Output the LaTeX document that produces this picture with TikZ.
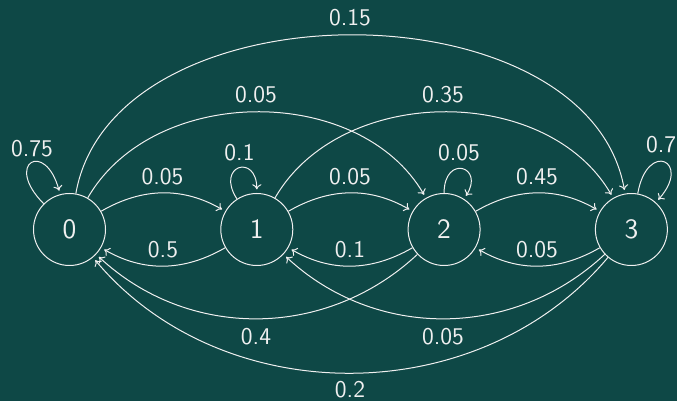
\documentclass[tikz,border=0pt]{standalone}
\usetikzlibrary{arrows.meta}
\definecolor{bgc}{RGB}{14,72,70}
\definecolor{fgc}{RGB}{240,240,240}
\tikzset{
  state/.style={draw=fgc, circle, minimum size=36pt, inner sep=0pt, line width=0.5pt,
    text=fgc, font=\sffamily\fontsize{14}{16}\selectfont},
  edge/.style={draw=fgc, line width=0.5pt, -{To[length=2.6pt,width=4.6pt]}, shorten >=1.8pt},
  lbl/.style={text=fgc, inner sep=0pt, font=\sffamily\fontsize{12}{14}\selectfont}
}
\begin{document}
\begin{tikzpicture}[x=0.5pt,y=-0.5pt]
\fill[bgc] (0,0) rectangle (677,401);
\useasboundingbox (0,0) rectangle (677,401);
\node[state] (n0) at (69.5,229.5) {0};
\node[state] (n1) at (256.8,229.5) {1};
\node[state] (n2) at (444.1,229.5) {2};
\node[state] (n3) at (631.4,229.5) {3};
% loops
\draw[edge] (n0) to[out=135,in=105,distance=28.5pt] (n0);
\draw[edge] (n1) to[out=123,in=90,distance=20pt] (n1);
\draw[edge] (n2) to[out=90,in=57,distance=19.5pt] (n2);
\draw[edge] (n3) to[out=80,in=48,distance=27.5pt] (n3);
% neighbours
\draw[edge] (n0) to[bend left=30] (n1);
\draw[edge] (n1) to[bend left=30] (n0);
\draw[edge] (n1) to[bend left=30] (n2);
\draw[edge] (n2) to[bend left=30] (n1);
\draw[edge] (n2) to[bend left=30] (n3);
\draw[edge] (n3) to[bend left=30] (n2);
% long
\draw[edge] (n0) to[bend left=60] (n2);
\draw[edge] (n1) to[bend left=60] (n3);
\draw[edge] (n0) to[bend left=80] (n3);
\draw[edge] (n2) to[bend left=43] (n0);
\draw[edge] (n3) to[bend left=43] (n1);
\draw[edge] (n3) to[bend left=50] (n0);
% labels
\node[lbl] (l00) at (32,149) {0.75};
\node[lbl] (l11) at (239.5,152.5) {0.1};
\node[lbl] (l22) at (459,152.5) {0.05};
\node[lbl] (l33) at (667,145) {0.75};
\node[lbl] (l01) at (162.5,176.7) {0.05};
\node[lbl] (l12) at (350,177) {0.05};
\node[lbl] (l23) at (537,177) {0.45};
\node[lbl] (l10) at (163,249.5) {0.5};
\node[lbl] (l21) at (350,249.5) {0.1};
\node[lbl] (l32) at (537,249.5) {0.05};
\node[lbl] (l02) at (256,95) {0.05};
\node[lbl] (l13) at (443,95) {0.35};
\node[lbl] (l03) at (350,18) {0.15};
\node[lbl] (l20) at (256,336.5) {0.4};
\node[lbl] (l31) at (443,336.5) {0.05};
\node[lbl] (l30) at (350,390) {0.2};
\end{tikzpicture}
\end{document}
